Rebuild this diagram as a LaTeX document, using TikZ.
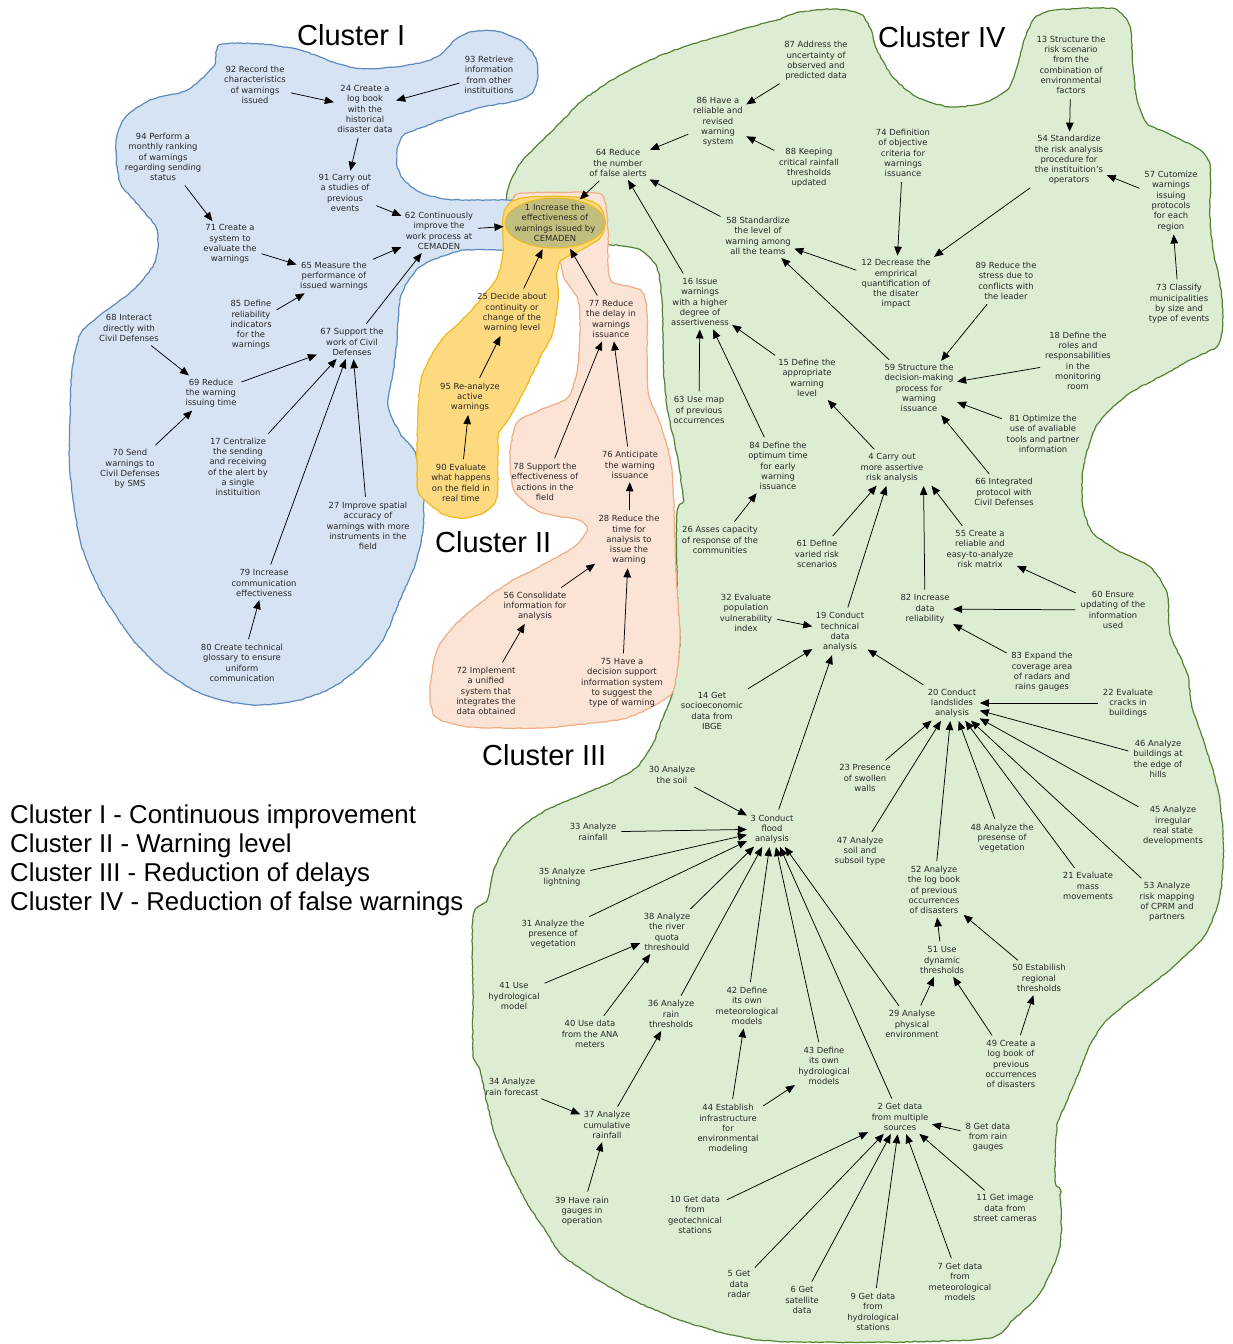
\documentclass[tikz,border=0pt]{standalone}
\usepackage{fontspec}
\setmainfont{DejaVu Sans}
\newfontfamily\titlefont{Liberation Sans}
\usetikzlibrary{arrows.meta,shapes.geometric,decorations.pathmorphing}

\definecolor{blueFill}{RGB}{213,227,243}
\definecolor{blueLine}{RGB}{92,138,190}
\definecolor{yellowFill}{RGB}{253,217,128}
\definecolor{yellowLine}{RGB}{240,186,30}
\definecolor{salmonFill}{RGB}{251,228,213}
\definecolor{salmonLine}{RGB}{240,172,132}
\definecolor{greenFill}{RGB}{221,237,211}
\definecolor{greenLine}{RGB}{84,130,53}
\definecolor{oliveFill}{RGB}{194,191,126}
\definecolor{txtc}{RGB}{40,40,40}

\begin{document}
\begin{tikzpicture}[x=1pt,y=-1pt,
  lbl/.style={align=center, font=\fontsize{8.4}{10.3}\selectfont, text=txtc, inner sep=2pt},
  arr/.style={-{Triangle[length=9pt,width=7.5pt]}, line width=0.75pt, draw=black,
              shorten >=1.5pt, shorten <=3pt},
  blob/.style={line width=1.2pt, decorate,
              decoration={random steps, segment length=3pt, amplitude=0.45pt}},
  ctitle/.style={anchor=base west, inner sep=0pt, font={\titlefont\fontsize{29}{34}\selectfont}},
  legline/.style={anchor=base west, inner sep=0pt, font={\titlefont\fontsize{25.8}{30}\selectfont}}]

\useasboundingbox (0,0) rectangle (1232,1344);
\pgfmathsetseed{7}

% ---------- Cluster IV region ----------
\path[blob, fill=greenFill, draw=greenLine] plot[smooth cycle, tension=0.45] coordinates {
 (507,193) (512,178) (523,160) (543,140) (560,123) (583,100) (617,77) (650,60) (683,47)
 (717,37) (750,27) (777,20) (800,12) (835,9) (860,14) (870,28) (877,50) (893,77) (917,97)
 (950,107) (983,103) (1007,90) (1017,67) (1025,38) (1035,18) (1055,10) (1100,8) (1117,10)
 (1130,27) (1133,67) (1137,100) (1147,123) (1167,133) (1200,150) (1210,167) (1210,217)
 (1213,250) (1220,283) (1223,317) (1218,345) (1190,360) (1167,373) (1130,393) (1105,415)
 (1093,433) (1083,470) (1083,507) (1093,533) (1117,550) (1150,567) (1167,593) (1170,633)
 (1187,673) (1192,707) (1205,745) (1218,790) (1223,833) (1223,867) (1219,900) (1205,935)
 (1173,967) (1140,993) (1107,1020) (1090,1045) (1078,1075) (1066,1103) (1057,1127)
 (1055,1180) (1060,1192) (1060,1247) (1040,1293) (1013,1320) (990,1338) (900,1342)
 (800,1342) (760,1340) (727,1334) (677,1319) (627,1297) (587,1273) (560,1253) (545,1230)
 (527,1203) (510,1170) (495,1135) (487,1103) (480,1070) (473,1055) (473,1000) (473,917)
 (487,900) (495,867) (513,835) (543,812) (577,797) (610,783) (637,767) (653,743) (662,720)
 (673,690) (680,640) (677,590) (677,513) (683,500) (678,460) (668,412) (664,378) (663,340)
 (662,300) (657,268) (640,250) (610,245) (560,250) (520,245) (505,225)};

% ---------- Cluster I region ----------
\path[blob, fill=blueFill, draw=blueLine] plot[smooth cycle, tension=0.45] coordinates {
 (220,45) (260,44) (300,50) (333,62) (355,68) (383,68) (420,63) (440,55) (455,40) (470,32)
 (495,31) (520,40) (535,57) (538,77) (532,93) (515,101) (483,107) (450,117) (423,127)
 (405,134) (398,146) (397,165) (404,180) (420,192) (445,199) (480,200) (515,200) (560,200)
 (592,205) (605,220) (600,238) (585,247) (550,250) (500,250) (465,250) (440,257) (420,267)
 (407,283) (400,300) (397,340) (393,373) (388,405) (400,433) (415,452) (423,490) (423,530)
 (415,565) (400,600) (383,640) (360,667) (333,687) (300,700) (260,705) (230,702) (200,693)
 (167,673) (133,640) (100,590) (80,540) (70,473) (70,420) (72,370) (80,335) (100,315)
 (133,290) (155,262) (157,230) (140,207) (120,182) (116,143) (125,118) (150,100) (187,90)
 (213,67)};

% ---------- Cluster III region ----------
\path[blob, fill=salmonFill, draw=salmonLine] plot[smooth cycle, tension=0.45] coordinates {
 (513,200) (527,193) (595,193) (605,203) (608,230) (608,265) (613,282) (640,290) (647,312)
 (648,390) (660,423) (672,470) (676,573) (680,640) (674,688) (660,702) (627,718) (593,723)
 (540,728) (470,727) (436,717) (430,690) (437,650) (455,625) (480,603) (510,582) (550,561)
 (575,546) (587,530) (578,520) (540,512) (515,492) (510,455) (517,423) (540,410) (567,398)
 (577,372) (580,330) (578,300) (565,280) (560,263) (545,250) (515,235)};

% ---------- Cluster II region ----------
\path[blob, fill=yellowFill, draw=yellowLine] plot[smooth cycle, tension=0.45] coordinates {
 (503,217) (510,203) (530,197) (575,197) (598,205) (605,222) (600,238) (583,249) (562,260)
 (557,275) (558,300) (552,335) (543,352) (527,385) (510,417) (499,433) (498,455) (497,497)
 (485,512) (465,518) (445,515) (428,503) (418,490) (417,450) (418,410) (421,380) (430,358)
 (443,338) (462,320) (482,298) (497,277) (503,253)};

% ---------- central goal ----------
\node[ellipse, minimum width=100pt, minimum height=50pt, inner sep=0pt,
      fill=oliveFill, draw=yellowLine, line width=1pt] (c1) at (555,223) {};
\node[lbl] (c1t) at (c1) {1 Increase the\\effectiveness of\\warnings issued by\\CEMADEN};

% ---------- titles and legend ----------
\node[ctitle] (tI) at (297,45) {Cluster I};
\node[ctitle] (tIV) at (878,47) {Cluster IV};
\node[ctitle] (tII) at (435,552) {Cluster II};
\node[ctitle] (tIII) at (482,765) {Cluster III};
\node[legline] (leg1) at (10,823) {Cluster I - Continuous improvement};
\node[legline] (leg2) at (10,852) {Cluster II - Warning level};
\node[legline] (leg3) at (10,881) {Cluster III - Reduction of delays};
\node[legline] (leg4) at (10,910) {Cluster IV - Reduction of false warnings};

% ---------- Cluster I concepts ----------
\node[lbl] (n92) at (255,85) {92 Record the\\characteristics\\of warnings\\issued};
\node[lbl] (n24) at (365,109) {24 Create a\\log book\\with the\\historical\\disaster data};
\node[lbl] (n93) at (489,75) {93 Retrieve\\information\\from other\\instituitions};
\node[lbl] (n94) at (163,157) {94 Perform a\\monthly ranking\\of warnings\\regarding sending\\status};
\node[lbl] (n91) at (345,193) {91 Carry out\\a studies of\\previous\\events};
\node[lbl] (n62) at (439,231) {62 Continuously\\improve the\\work process at\\CEMADEN};
\node[lbl] (n71) at (230,244) {71 Create a\\system to\\evaluate the\\warnings};
\node[lbl] (n65) at (334,276) {65 Measure the\\performance of\\issued warnings};
\node[lbl] (n85) at (251,325) {85 Define\\reliability\\indicators\\for the\\warnings};
\node[lbl] (n68) at (129,328) {68 Interact\\directly with\\Civil Defenses};
\node[lbl] (n67) at (352,342) {67 Support the\\work of Civil\\Defenses};
\node[lbl] (n69) at (211,393) {69 Reduce\\the warning\\issuing time};
\node[lbl] (n70) at (130,469) {70 Send\\warnings to\\Civil Defenses\\by SMS};
\node[lbl] (n17) at (238,467) {17 Centralize\\the sending\\and receiving\\of the alert by\\a single\\instituition};
\node[lbl] (n27) at (368,526) {27 Improve spatial\\accuracy of\\warnings with more\\instruments in the\\field};
\node[lbl] (n79) at (264,583) {79 Increase\\communication\\effectiveness};
\node[lbl] (n80) at (242,663) {80 Create technical\\glossary to ensure\\uniform\\communication};

% ---------- Cluster II concepts ----------
\node[lbl] (n25) at (512,313) {25 Decide about\\continuity or\\change of the\\warning level};
\node[lbl] (n95) at (470,397) {95 Re-analyze\\active\\warnings};
\node[lbl] (n90) at (461,483) {90 Evaluate\\what happens\\on the field in\\real time};

% ---------- Cluster III concepts ----------
\node[lbl] (n77) at (611,319) {77 Reduce\\the delay in\\warnings\\issuance};
\node[lbl] (n78) at (545,482) {78 Support the\\effectiveness of\\actions in the\\field};
\node[lbl] (n76) at (630,465) {76 Anticipate\\the warning\\issuance};
\node[lbl] (n28) at (629,540) {28 Reduce the\\time for\\analysis to\\issue the\\warning};
\node[lbl] (n56) at (535,606) {56 Consolidate\\information for\\analysis};
\node[lbl] (n72) at (486,691) {72 Implement\\a unified\\system that\\integrates the\\data obtained};
\node[lbl] (n75) at (622,683) {75 Have a\\decision support\\information system\\to suggest the\\type of warning};

% ---------- Cluster IV concepts ----------
\node[lbl] (n87) at (816,61) {87 Address the\\uncertainty of\\observed and\\predicted data};
\node[lbl] (n86) at (718,122) {86 Have a\\reliable and\\revised\\warning\\system};
\node[lbl] (n88) at (809,168) {88 Keeping\\critical rainfall\\thresholds\\updated};
\node[lbl] (n64) at (618,163) {64 Reduce\\the number\\of false alerts};
\node[lbl] (n58) at (758,236) {58 Standardize\\the level of\\warning among\\all the teams};
\node[lbl] (n74) at (903,153) {74 Definition\\of objective\\criteria for\\warnings\\issuance};
\node[lbl] (n13) at (1071,65) {13 Structure the\\risk scenario\\from the\\combination of\\environmental\\factors};
\node[lbl] (n54) at (1069,160) {54 Standardize\\the risk analysis\\procedure for\\the instituition's\\operators};
\node[lbl] (n57) at (1171,201) {57 Cutomize\\warnings\\issuing\\protocols\\for each\\region};
\node[lbl] (n12) at (896,284) {12 Decrease the\\emprirical\\quantification of\\the disater\\impact};
\node[lbl] (n89) at (1006,281) {89 Reduce the\\stress due to\\conflicts with\\the leader};
\node[lbl] (n73) at (1179,304) {73 Classify\\municipalities\\by size and\\type of events};
\node[lbl] (n18) at (1078,361) {18 Define the\\roles and\\responsabilities\\in the\\monitoring\\room};
\node[lbl] (n16) at (700,302) {16 Issue\\warnings\\with a higher\\degree of\\assertiveness};
\node[lbl] (n15) at (807,378) {15 Define the\\appropriate\\warning\\level};
\node[lbl] (n59) at (919,388) {59 Structure the\\decision-making\\process for\\warning\\issuance};
\node[lbl] (n63) at (699,410) {63 Use map\\of previous\\occurrences};
\node[lbl] (n81) at (1043,434) {81 Optimize the\\use of avaliable\\tools and partner\\information};
\node[lbl] (n84) at (778,466) {84 Define the\\optimum time\\for early\\warning\\issuance};
\node[lbl] (n4) at (892,468) {4 Carry out\\more assertive\\risk analysis};
\node[lbl] (n66) at (1004,492) {66 Integrated\\protocol with\\Civil Defenses};
\node[lbl] (n26) at (720,540) {26 Asses capacity\\of response of the\\communities};
\node[lbl] (n61) at (817,554) {61 Define\\varied risk\\scenarios};
\node[lbl] (n55) at (980,549) {55 Create a\\reliable and\\easy-to-analyze\\risk matrix};
\node[lbl] (n32) at (746,613) {32 Evaluate\\population\\vulnerability\\index};
\node[lbl] (n19) at (840,632) {19 Conduct\\technical\\data\\analysis};
\node[lbl] (n82) at (925,609) {82 Increase\\data\\reliability};
\node[lbl] (n60) at (1113,610) {60 Ensure\\updating of the\\information\\used};
\node[lbl] (n83) at (1042,672) {83 Expand the\\coverage area\\of radars and\\rains gauges};
\node[lbl] (n14) at (712,711) {14 Get\\socioeconomic\\data from\\IBGE};
\node[lbl] (n20) at (952,703) {20 Conduct\\landslides\\analysis};
\node[lbl] (n22) at (1128,703) {22 Evaluate\\cracks in\\buildings};
\node[lbl] (n30) at (672,775) {30 Analyze\\the soil};
\node[lbl] (n3) at (772,829) {3 Conduct\\flood\\analysis};
\node[lbl] (n23) at (865,778) {23 Presence\\of swollen\\walls};
\node[lbl] (n46) at (1158,759) {46 Analyze\\buildings at\\the edge of\\hills};
\node[lbl] (n33) at (593,832) {33 Analyze\\rainfall};
\node[lbl] (n47) at (860,851) {47 Analyze\\soil and\\subsoil type};
\node[lbl] (n48) at (1002,838) {48 Analyze the\\presense of\\vegetation};
\node[lbl] (n45) at (1173,826) {45 Analyze\\irregular\\real state\\developments};
\node[lbl] (n35) at (562,877) {35 Analyze\\lightning};
\node[lbl] (n52) at (934,890) {52 Analyze\\the log book\\of previous\\occurrences\\of disasters};
\node[lbl] (n21) at (1088,886) {21 Evaluate\\mass\\movements};
\node[lbl] (n53) at (1167,902) {53 Analyze\\risk mapping\\of CPRM and\\partners};
\node[lbl] (n31) at (553,934) {31 Analyze the\\presence of\\vegetation};
\node[lbl] (n38) at (667,932) {38 Analyze\\the river\\quota\\threshould};
\node[lbl] (n51) at (942,960) {51 Use\\dynamic\\thresholds};
\node[lbl] (n50) at (1039,978) {50 Estabilish\\regional\\thresholds};
\node[lbl] (n41) at (514,996) {41 Use\\hydrological\\model};
\node[lbl] (n42) at (747,1006) {42 Define\\its own\\meteorological\\models};
\node[lbl] (n36) at (671,1014) {36 Analyze\\rain\\thresholds};
\node[lbl] (n40) at (590,1034) {40 Use data\\from the ANA\\meters};
\node[lbl] (n29) at (912,1024) {29 Analyse\\physical\\environment};
\node[lbl] (n49) at (1011,1064) {49 Create a\\log book of\\previous\\occurrences\\of disasters};
\node[lbl] (n43) at (824,1066) {43 Define\\its own\\hydrological\\models};
\node[lbl] (n34) at (512,1087) {34 Analyze\\rain forecast};
\node[lbl] (n37) at (607,1125) {37 Analyze\\cumulative\\rainfall};
\node[lbl] (n44) at (728,1129) {44 Establish\\infrastructure\\for\\environmental\\modeling};
\node[lbl] (n2) at (900,1117) {2 Get data\\from multiple\\sources};
\node[lbl] (n8) at (988,1137) {8 Get data\\from rain\\gauges};
\node[lbl] (n10) at (695,1215) {10 Get data\\from\\geotechnical\\stations};
\node[lbl] (n11) at (1005,1208) {11 Get image\\data from\\street cameras};
\node[lbl] (n39) at (582,1211) {39 Have rain\\gauges in\\operation};
\node[lbl] (n5) at (739,1284) {5 Get\\data\\radar};
\node[lbl] (n6) at (802,1300) {6 Get\\satellite\\data};
\node[lbl] (n7) at (960,1282) {7 Get data\\from\\meteorological\\models};
\node[lbl] (n9) at (873,1312) {9 Get data\\from\\hydrological\\stations};

% ---------- links: Cluster I ----------
\draw[arr] (n92) -- (n24);
\draw[arr] (n93) -- (n24);
\draw[arr] (n24) -- (n91);
\draw[arr] (n91) -- (n62);
\draw[arr] (n94) -- (n71);
\draw[arr] (n71) -- (n65);
\draw[arr] (n65) -- (n62);
\draw[arr] (n85) -- (n65);
\draw[arr] (n67) -- (n62);
\draw[arr] (n68) -- (n69);
\draw[arr] (n70) -- (n69);
\draw[arr] (n69) -- (n67);
\draw[arr] (n17) -- (n67);
\draw[arr] (n79) -- (n67);
\draw[arr] (n27) -- (n67);
\draw[arr] (n80) -- (n79);
\draw[arr] (n62) -- (c1);

% ---------- links: Cluster II ----------
\draw[arr] (n90) -- (n95);
\draw[arr] (n95) -- (n25);
\draw[arr] (n25) -- (c1);

% ---------- links: Cluster III ----------
\draw[arr] (n72) -- (n56);
\draw[arr] (n56) -- (n28);
\draw[arr] (n75) -- (n28);
\draw[arr] (n28) -- (n76);
\draw[arr] (n76) -- (n77);
\draw[arr] (n78) -- (n77);
\draw[arr] (n77) -- (c1);

% ---------- links: Cluster IV ----------
\draw[arr] (n64) -- (c1);
\draw[arr] (n87) -- (n86);
\draw[arr] (n86) -- (n64);
\draw[arr] (n88) -- (n86);
\draw[arr] (n58) -- (n64);
\draw[arr] (n16) -- (n64);
\draw[arr] (n74) -- (n12);
\draw[arr] (n13) -- (n54);
\draw[arr] (n54) -- (n12);
\draw[arr] (n57) -- (n54);
\draw[arr] (n73) -- (n57);
\draw[arr] (n12) -- (n58);
\draw[arr] (n59) -- (n58);
\draw[arr] (n89) -- (n59);
\draw[arr] (n18) -- (n59);
\draw[arr] (n81) -- (n59);
\draw[arr] (n66) -- (n59);
\draw[arr] (n15) -- (n16);
\draw[arr] (n63) -- (n16);
\draw[arr] (n84) -- (n16);
\draw[arr] (n26) -- (n84);
\draw[arr] (n4) -- (n15);
\draw[arr] (n61) -- (n4);
\draw[arr] (n19) -- (n4);
\draw[arr] (n82) -- ([xshift=-2pt]n4.south east);
\draw[arr] (n55) -- ([xshift=5pt]n4.south east);
\draw[arr] (n60) -- (n55);
\draw[arr] (n60) -- (n82);
\draw[arr] (n83) -- (n82);
\draw[arr] (n20) -- (n19);
\draw[arr] (n32) -- (n19);
\draw[arr] (n14) -- (n19);
\draw[arr] (n3) -- (n19);
\draw[arr] (n22) -- (n20);
\draw[arr] (n46) -- (n20);
\draw[arr] (n45) -- (n20);
\draw[arr] (n53) -- (n20);
\draw[arr] (n21) -- (n20);
\draw[arr] (n48) -- (n20);
\draw[arr] (n52) -- (n20);
\draw[arr] (n47) -- (n20);
\draw[arr] (n23) -- (n20);
\draw[arr] (n30) -- (n3);
\draw[arr] (n33) -- (n3);
\draw[arr] (n35) -- (n3);
\draw[arr] (n31) -- (n3);
\draw[arr] (n38) -- (n3);
\draw[arr] (n36) -- (n3);
\draw[arr] (n42) -- (n3);
\draw[arr] (n43) -- (n3);
\draw[arr] (n2) -- (n3);
\draw[arr] (n29) -- (n3);
\draw[arr] (n41) -- (n38);
\draw[arr] (n40) -- (n38);
\draw[arr] (n37) -- (n36);
\draw[arr] (n34) -- (n37);
\draw[arr] (n39) -- (n37);
\draw[arr] (n44) -- (n42);
\draw[arr] (n44) -- (n43);
\draw[arr] (n51) -- (n52);
\draw[arr] (n50) -- (n52);
\draw[arr] (n29) -- (n51);
\draw[arr] (n49) -- (n51);
\draw[arr] (n49) -- (n50);
\draw[arr] (n10) -- (n2);
\draw[arr] (n5) -- (n2);
\draw[arr] (n6) -- (n2);
\draw[arr] (n9) -- (n2);
\draw[arr] (n7) -- (n2);
\draw[arr] (n11) -- (n2);
\draw[arr] (n8) -- (n2);

\end{tikzpicture}
\end{document}
